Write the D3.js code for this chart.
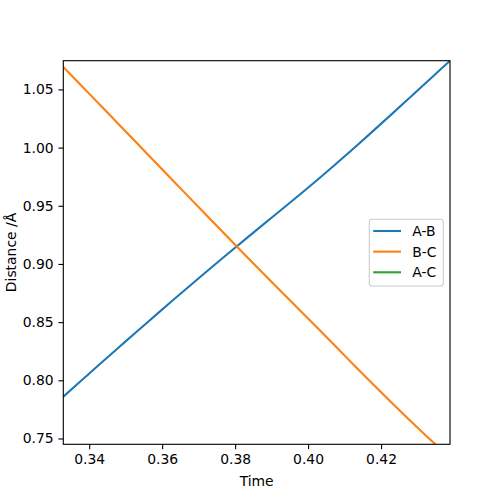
<!DOCTYPE html>
<html>
<head>
<meta charset="utf-8">
<script src="https://cdn.jsdelivr.net/npm/d3@7"></script>
<style>
  html, body { margin: 0; padding: 0; background: #fff; }
  svg { display: block; font-family: "DejaVu Sans", sans-serif; }
</style>
</head>
<body>
<svg id="chart" width="500" height="500"></svg>
<script>
// ---- data ----
const times = [0.3329, 0.3380, 0.3430, 0.3480, 0.3530, 0.3580, 0.3630, 0.3680, 0.3730, 0.3780,
               0.3830, 0.3880, 0.3930, 0.3980, 0.4030, 0.4080, 0.4130, 0.4180, 0.4230, 0.4280,
               0.4330, 0.4380, 0.4390];
const distAB = [0.7859, 0.8002, 0.8142, 0.8280, 0.8418, 0.8554, 0.8690, 0.8824, 0.8957, 0.9088,
                0.9218, 0.9347, 0.9474, 0.9603, 0.9735, 0.9870, 1.0007, 1.0148, 1.0290, 1.0433,
                1.0576, 1.0720, 1.0748];
const distBC = [1.0694, 1.0528, 1.0366, 1.0203, 1.0041, 0.9878, 0.9716, 0.9553, 0.9391, 0.9229,
                0.9068, 0.8909, 0.8751, 0.8594, 0.8436, 0.8277, 0.8117, 0.7959, 0.7804, 0.7653,
                0.7505, 0.7360, 0.7331];
const distAC = [1.855, 1.854, 1.853, 1.851, 1.850, 1.847, 1.845, 1.842, 1.838, 1.834,
                1.830, 1.826, 1.823, 1.819, 1.816, 1.813, 1.811, 1.809, 1.808, 1.807,
                1.807, 1.807, 1.807];
const seriesNames = ["A-B", "B-C", "A-C"];
const seriesColors = ["#1f77b4", "#ff7f0e", "#2ca02c"];
const xTicks = [0.34, 0.36, 0.38, 0.40, 0.42];
const yTicks = [0.75, 0.80, 0.85, 0.90, 0.95, 1.00, 1.05];
const xDomain = [0.3329, 0.4389];
const yDomain = [0.7450, 1.0747];
const xLabel = "Time";
const yLabel = "Distance /Å";

// ---- layout ----
const L = 63.3, R = 450, T = 60.7, B = 444.3;
const svg = d3.select("#chart");
const x = d3.scaleLinear().domain(xDomain).range([L, R]);
const y = d3.scaleLinear().domain(yDomain).range([B, T]);

const series = [distAB, distBC, distAC].map((vals, i) => ({
  name: seriesNames[i], color: seriesColors[i],
  pts: times.map((t, j) => [t, vals[j]])
}));

svg.append("defs").append("clipPath").attr("id", "clip")
  .append("rect").attr("x", L).attr("y", T).attr("width", R - L).attr("height", B - T);

const line = d3.line().x(d => x(d[0])).y(d => y(d[1])).curve(d3.curveMonotoneX);
const g = svg.append("g").attr("clip-path", "url(#clip)");
series.forEach(s => {
  g.append("path").attr("d", line(s.pts))
    .attr("fill", "none").attr("stroke", s.color).attr("stroke-width", 2.08)
    .attr("stroke-linecap", "square").attr("stroke-linejoin", "round");
});

// axes
const fmt = d3.format(".2f");
const xAxis = svg.append("g").attr("transform", `translate(0,${B})`)
  .call(d3.axisBottom(x).tickValues(xTicks).tickFormat(fmt).tickSize(4.86).tickPadding(4.86));
const yAxis = svg.append("g").attr("transform", `translate(${L},0)`)
  .call(d3.axisLeft(y).tickValues(yTicks).tickFormat(fmt).tickSize(4.86).tickPadding(4.86));
[xAxis, yAxis].forEach(a => {
  a.select(".domain").remove();
  a.selectAll(".tick line").attr("stroke", "#000").attr("stroke-width", 1.11);
  a.selectAll(".tick text").attr("fill", "#000").style("font-size", "13.9px")
    .style("font-family", "DejaVu Sans");
});

// spines
svg.append("rect").attr("x", L).attr("y", T).attr("width", R - L).attr("height", B - T)
  .attr("fill", "none").attr("stroke", "#000").attr("stroke-width", 1.11);

// axis labels
svg.append("text").attr("x", (L + R) / 2).attr("y", 486).attr("text-anchor", "middle")
  .style("font-size", "13.9px").text(xLabel);
svg.append("text").attr("transform", `translate(16,${(T + B) / 2}) rotate(-90)`)
  .attr("text-anchor", "middle").style("font-size", "13.9px").text(yLabel);

// legend
const lg = svg.append("g");
lg.append("rect").attr("x", 369.3).attr("y", 219.3).attr("width", 74).attr("height", 66.7)
  .attr("rx", 2.8).attr("fill", "#fff").attr("fill-opacity", 0.8)
  .attr("stroke", "#cccccc").attr("stroke-width", 1.11);
series.forEach((s, i) => {
  const yy = 231 + i * 20.65;
  lg.append("line").attr("x1", 373.2).attr("x2", 401.0).attr("y1", yy).attr("y2", yy)
    .attr("stroke", s.color).attr("stroke-width", 2.08);
  lg.append("text").attr("x", 412.3).attr("y", yy).attr("dy", "0.36em")
    .style("font-size", "13.9px").text(s.name);
});
</script>
</body>
</html>
